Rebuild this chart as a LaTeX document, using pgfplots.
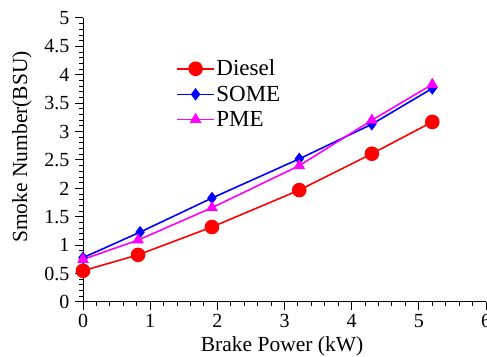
\documentclass[border=0pt]{standalone}
\usepackage{pgfplots}
\pgfplotsset{compat=1.18}
\usepackage{fontspec}
\setmainfont{Liberation Serif}
\definecolor{pmemag}{RGB}{255,0,255}
\definecolor{somebl}{RGB}{0,0,255}
\definecolor{dsred}{RGB}{255,0,0}
\begin{document}
\begin{tikzpicture}
\useasboundingbox (0,0) rectangle (487pt,356pt);
\begin{axis}[
  at={(83pt,54pt)}, anchor=south west,
  scale only axis,
  width=403pt, height=284pt,
  xmin=0, xmax=6, ymin=0, ymax=5,
  axis x line=bottom, axis y line=left,
  axis line style={-, line width=1pt},
  xtick={0,1,...,6}, ytick={0,0.5,...,5},
  minor x tick num=4, minor y tick num=4,
  tick align=outside,
  major tick length=8pt, minor tick length=4pt,
  every tick/.style={black, line width=1pt},
  tick label style={font=\fontsize{20}{24}\selectfont},
  /pgf/number format/assume math mode=true,
  yticklabel style={/pgf/number format/fixed, xshift=-2pt},
  xticklabel style={yshift=-1pt},
  xlabel={Brake Power (kW)}, ylabel={Smoke Number(BSU)},
  label style={font=\fontsize{21.5}{25}\selectfont},
  xlabel style={at={(axis description cs:0.494,0)}, anchor=base, yshift=-49.5pt},
  ylabel style={at={([xshift=-61pt]axis description cs:0,0.546)}, anchor=center, rotate=0},
  clip=false,
  legend style={draw=none, fill=none, at={(axis description cs:0.231,0.858)}, anchor=north west,
    font=\fontsize{23}{27}\selectfont, row sep=5.5pt, inner sep=0pt,
    nodes={inner sep=1.5pt}},
  legend cell align=left,
  legend image code/.code={\draw[mark repeat=2,mark phase=2] plot coordinates {(0pt,0pt) (18.5pt,0pt) (37pt,0pt)};},
]
\addplot[dsred, line width=1.6pt, mark=*, mark size=6.5pt, mark options={fill=dsred}]
  coordinates {(0,0.55) (0.82,0.83) (1.92,1.32) (3.22,1.97) (4.3,2.61) (5.2,3.17)};
\addlegendentry{Diesel}
\addplot[somebl, line width=1.6pt, mark=diamond*, mark size=5pt, mark options={fill=somebl}]
  coordinates {(0,0.78) (0.85,1.23) (1.92,1.83) (3.22,2.52) (4.3,3.13) (5.2,3.76)};
\addlegendentry{SOME}
\addplot[pmemag, line width=1.6pt, mark=triangle*, mark size=5.2pt, mark options={fill=pmemag}]
  coordinates {(0,0.75) (0.82,1.09) (1.92,1.66) (3.22,2.4) (4.3,3.2) (5.2,3.83)};
\addlegendentry{PME}
\end{axis}
\end{tikzpicture}
\end{document}
